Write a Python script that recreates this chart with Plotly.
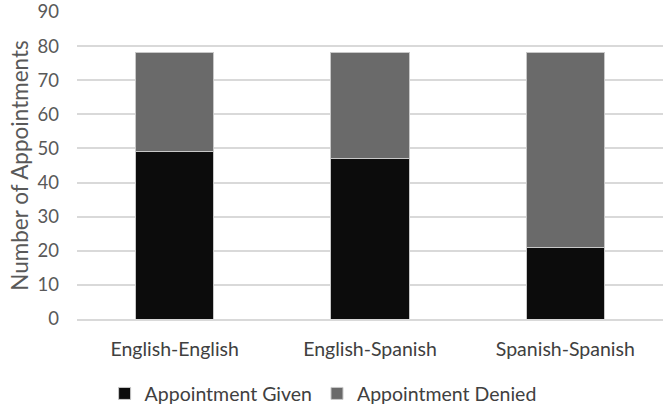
import plotly.graph_objects as go

categories = ["English-English", "English-Spanish", "Spanish-Spanish"]
given = [49, 47, 21]
denied = [29, 31, 57]

fig = go.Figure()
fig.add_trace(go.Bar(
    x=categories, y=given, name="Appointment Given",
    marker=dict(color="#0c0c0c", line=dict(color="#c8c8c8", width=1)),
))
fig.add_trace(go.Bar(
    x=categories, y=denied, name="Appointment Denied",
    marker=dict(color="#6a6a6a", line=dict(color="#c8c8c8", width=1)),
))

fig.update_layout(
    barmode="stack",
    bargap=0.6,
    width=666, height=410,
    margin=dict(l=77, r=3, t=12, b=91, autoexpand=False),
    plot_bgcolor="white", paper_bgcolor="white",
    font=dict(family="Lato", color="#595959", size=19),
    legend=dict(orientation="h", x=0.42, xanchor="center", y=-0.18, yanchor="top",
                font=dict(size=19.5, color="#404040"), traceorder="normal",
                itemwidth=30),
    showlegend=True,
)
fig.update_yaxes(range=[0, 90], dtick=10, gridcolor="#d9d9d9", gridwidth=1.5,
                 zeroline=False, showline=False, ticks="",
                 ticklabeloverflow="allow", ticklabelstandoff=17,
                 tickfont=dict(size=18.5, color="#595959"),
                 title=dict(text="Number of Appointments", standoff=2,
                            font=dict(size=22.5, color="#595959")))
fig.update_xaxes(showline=True, linecolor="#d9d9d9", linewidth=1.5, ticks="",
                 ticklabelstandoff=12,
                 tickfont=dict(size=19.5, color="#404040"))

# drop the default 8px body margin so the figure fills the window
fig.write_html("out.html", config={"displayModeBar": False},
               post_script="document.body.style.margin='0';")
